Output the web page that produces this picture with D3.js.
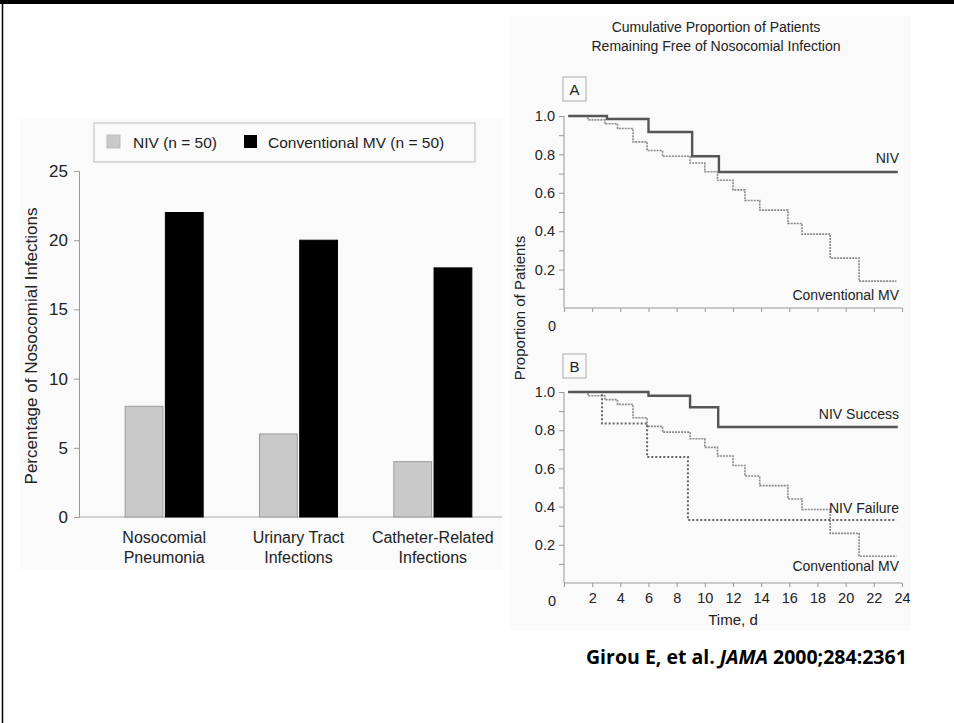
<!DOCTYPE html>
<html>
<head>
<meta charset="utf-8">
<script src="https://cdn.jsdelivr.net/npm/d3@7"></script>
<style>
  html, body { margin: 0; padding: 0; background: #ffffff; }
  svg { display: block; }
  text { font-family: "Liberation Sans", Arial, sans-serif; fill: #222; }
</style>
</head>
<body>
<svg id="chart" width="954" height="723"></svg>
<script>
// ---------- DATA ----------
const categories = [["Nosocomial", "Pneumonia"], ["Urinary Tract", "Infections"], ["Catheter-Related", "Infections"]];
const seriesNames = ["NIV (n = 50)", "Conventional MV (n = 50)"];
const nivValues = [8, 6, 4];
const mvValues = [22, 20, 18];
const barTicks = [0, 5, 10, 15, 20, 25];

// Kaplan-Meier step curves (time in days, proportion)
const mvTimes = [0.3, 1.7, 2.9, 3.8, 4.9, 5.9, 7.0, 8.95, 10.0, 10.9, 12.0, 12.85, 13.9, 15.9, 16.9, 18.9, 20.95, 23.6];
const mvProps = [1.0, 0.98, 0.96, 0.935, 0.865, 0.82, 0.79, 0.755, 0.71, 0.665, 0.615, 0.56, 0.51, 0.44, 0.385, 0.26, 0.14, 0.14];
const nivTimes = [0.3, 3.05, 6.0, 9.1, 11.0, 23.7];
const nivProps = [1.0, 0.984, 0.917, 0.79, 0.708, 0.708];
const nivSuccessTimes = [0.3, 6.0, 8.95, 10.95, 23.7];
const nivSuccessProps = [1.0, 0.98, 0.92, 0.817, 0.817];
const nivFailureTimes = [0.3, 2.7, 5.9, 8.8, 23.6];
const nivFailureProps = [1.0, 0.835, 0.66, 0.33, 0.33];
const timeTicks = [0, 2, 4, 6, 8, 10, 12, 14, 16, 18, 20, 22, 24];
const propMajorTicks = [0.2, 0.4, 0.6, 0.8, 1.0];
const propMinorTicks = [0.1, 0.3, 0.5, 0.7, 0.9];

// ---------- SETUP ----------
const svg = d3.select("#chart");

// slide frame
svg.append("rect").attr("x", 0).attr("y", 0).attr("width", 954).attr("height", 4).attr("fill", "#000");
svg.append("line").attr("x1", 2.5).attr("x2", 2.5).attr("y1", 0).attr("y2", 723).attr("stroke", "#000").attr("stroke-width", 1.5);

// ---------- LEFT: BAR CHART ----------
svg.append("rect").attr("x", 20).attr("y", 119).attr("width", 482).attr("height", 450).attr("fill", "#fafafa");

const yBar = d3.scaleLinear().domain([0, 25]).range([517, 171]);
const x0 = d3.scaleBand().domain(d3.range(categories.length)).range([97, 500]).padding(0);
const groupW = 78;
const x1 = d3.scaleBand().domain([0, 1]).range([0, groupW]).paddingInner(0.06);
const barColors = ["#c9c9c9", "#000000"];
const barStroke = ["#9a9a9a", "#000000"];

const gBar = svg.append("g");
// y axis
const yAxisBar = d3.axisLeft(yBar).tickValues(barTicks).tickSize(5).tickPadding(6).tickFormat(d3.format("d"));
const gya = gBar.append("g").attr("transform", "translate(79,0)").call(yAxisBar);
gya.select(".domain").attr("stroke", "#999").attr("stroke-width", 1);
gya.selectAll(".tick line").attr("stroke", "#999");
gya.selectAll(".tick text").attr("font-size", 17).attr("font-family", "Liberation Sans, Arial, sans-serif").attr("fill", "#222");

// x baseline
gBar.append("line").attr("x1", 79).attr("x2", 502).attr("y1", yBar(0)).attr("y2", yBar(0)).attr("stroke", "#aaa").attr("stroke-width", 1);

const groups = gBar.selectAll("g.grp").data(categories.map((c, i) => ({ i, vals: [nivValues[i], mvValues[i]] })))
  .enter().append("g").attr("class", "grp")
  .attr("transform", d => `translate(${x0(d.i) + (x0.bandwidth() - groupW) / 2},0)`);
groups.selectAll("rect").data(d => d.vals.map((v, k) => ({ v, k })))
  .enter().append("rect")
  .attr("x", d => x1(d.k))
  .attr("width", x1.bandwidth())
  .attr("y", d => yBar(d.v))
  .attr("height", d => yBar(0) - yBar(d.v))
  .attr("fill", d => barColors[d.k])
  .attr("stroke", d => barStroke[d.k])
  .attr("stroke-width", 1);

// category labels
categories.forEach((lines, i) => {
  const cx = x0(i) + x0.bandwidth() / 2;
  lines.forEach((ln, j) => {
    gBar.append("text").attr("x", cx).attr("y", 543 + j * 20).attr("text-anchor", "middle")
      .attr("font-size", 16).text(ln);
  });
});

// y title
gBar.append("text").attr("transform", "translate(37,346) rotate(-90)").attr("text-anchor", "middle")
  .attr("font-size", 17).text("Percentage of Nosocomial Infections");

// legend
const lg = gBar.append("g");
lg.append("rect").attr("x", 94).attr("y", 123).attr("width", 381).attr("height", 39)
  .attr("fill", "#fafafa").attr("stroke", "#bbb").attr("stroke-width", 1);
lg.append("rect").attr("x", 107).attr("y", 135).attr("width", 13).attr("height", 13).attr("fill", barColors[0]).attr("stroke", "#bbb");
lg.append("text").attr("x", 133).attr("y", 148).attr("font-size", 15.5).text(seriesNames[0]);
lg.append("rect").attr("x", 244).attr("y", 135).attr("width", 13).attr("height", 13).attr("fill", barColors[1]);
lg.append("text").attr("x", 268).attr("y", 148).attr("font-size", 15.5).text(seriesNames[1]);

// ---------- RIGHT: KAPLAN-MEIER ----------
svg.append("rect").attr("x", 510).attr("y", 16).attr("width", 401).attr("height", 614).attr("fill", "#fafafa");

svg.append("text").attr("x", 716).attr("y", 32).attr("text-anchor", "middle").attr("font-size", 14).text("Cumulative Proportion of Patients");
svg.append("text").attr("x", 716).attr("y", 51).attr("text-anchor", "middle").attr("font-size", 14).text("Remaining Free of Nosocomial Infection");

svg.append("text").attr("transform", "translate(525,308) rotate(-90)").attr("text-anchor", "middle")
  .attr("font-size", 15).text("Proportion of Patients");

const xT = d3.scaleLinear().domain([0, 24]).range([564, 902]);

function panel(y0, y1, letter, boxY, showXLabels, curves, labels) {
  const y = d3.scaleLinear().domain([0, 1]).range([y0, y1]);
  const g = svg.append("g");
  // letter box
  g.append("rect").attr("x", 563).attr("y", boxY).attr("width", 23).attr("height", 24)
    .attr("fill", "#fafafa").attr("stroke", "#aaa");
  g.append("text").attr("x", 574.5).attr("y", boxY + 18).attr("text-anchor", "middle").attr("font-size", 15).text(letter);
  // y axis
  const ya = d3.axisLeft(y).tickValues(propMajorTicks).tickSize(5).tickPadding(4).tickFormat(d3.format(".1f"));
  const gy = g.append("g").attr("transform", `translate(${xT(0)},0)`).call(ya);
  gy.selectAll(".tick text").attr("font-size", 14.5).attr("font-family", "Liberation Sans, Arial, sans-serif").attr("fill", "#222");
  gy.select(".domain").attr("stroke", "#999").attr("d", `M0,${y(1)}V${y(0)}`);
  gy.selectAll(".tick line").attr("stroke", "#999");
  const ym = d3.axisLeft(y).tickValues(propMinorTicks).tickSize(5).tickFormat("");
  const gym = g.append("g").attr("transform", `translate(${xT(0)},0)`).call(ym);
  gym.select(".domain").remove();
  gym.selectAll(".tick line").attr("stroke", "#999");
  // x axis
  const xa = d3.axisBottom(xT).tickValues(timeTicks).tickSize(4).tickPadding(6)
    .tickFormat(d => (showXLabels && d !== 0) ? d : "");
  const gx = g.append("g").attr("transform", `translate(0,${y(0)})`).call(xa);
  gx.select(".domain").attr("stroke", "#999").attr("d", `M${xT(0)},0H${xT(24)}`);
  gx.selectAll(".tick line").attr("stroke", "#999");
  gx.selectAll(".tick text").attr("font-size", 14.5).attr("font-family", "Liberation Sans, Arial, sans-serif").attr("fill", "#222");
  // zero label
  g.append("text").attr("x", 552).attr("y", y(0) + 23).attr("text-anchor", "middle").attr("font-size", 14.5).text("0");
  // curves
  const line = d3.line().x(d => xT(d[0])).y(d => y(d[1])).curve(d3.curveStepAfter);
  curves.forEach(c => {
    g.append("path").datum(d3.zip(c.t, c.p)).attr("d", line).attr("fill", "none")
      .attr("stroke", c.color).attr("stroke-width", c.width)
      .attr("stroke-dasharray", c.dash || null);
  });
  labels.forEach(l => {
    g.append("text").attr("x", 899).attr("y", l.y).attr("text-anchor", "end").attr("font-size", 14).text(l.text);
  });
  return y;
}

panel(308, 116, "A", 77, false, [
  { t: mvTimes, p: mvProps, color: "#8a8a8a", width: 1.6, dash: "2,1" },
  { t: nivTimes, p: nivProps, color: "#555", width: 2.4 }
], [
  { text: "NIV", y: 163 },
  { text: "Conventional MV", y: 300 }
]);

panel(583, 392, "B", 354, true, [
  { t: mvTimes, p: mvProps, color: "#8a8a8a", width: 1.6, dash: "2,1" },
  { t: nivFailureTimes, p: nivFailureProps, color: "#666", width: 2, dash: "2,2" },
  { t: nivSuccessTimes, p: nivSuccessProps, color: "#555", width: 2.4 }
], [
  { text: "NIV Success", y: 419 },
  { text: "NIV Failure", y: 513 },
  { text: "Conventional MV", y: 571 }
]);

svg.append("text").attr("x", 733).attr("y", 625).attr("text-anchor", "middle").attr("font-size", 15).text("Time, d");

// citation
const cit = svg.append("text").attr("x", 586).attr("y", 664).attr("font-size", 19.5).attr("font-weight", "bold")
  .style("font-family", "'Open Sans', 'Liberation Sans', sans-serif").style("fill", "#000");
cit.append("tspan").text("Girou E, et al. ");
cit.append("tspan").attr("font-style", "italic").text("JAMA");
cit.append("tspan").text(" 2000;284:2361");
</script>
</body>
</html>
